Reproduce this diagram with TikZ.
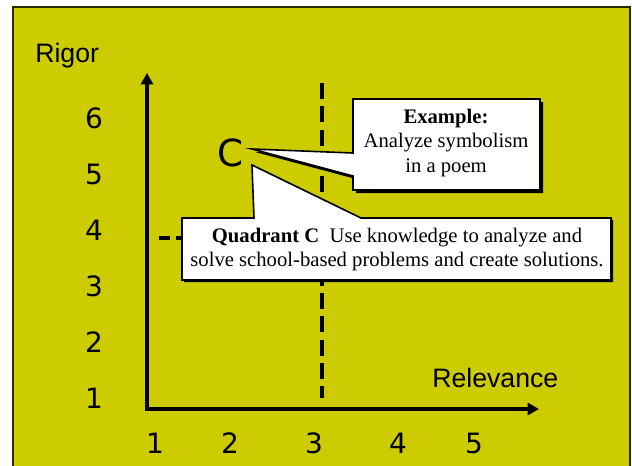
\documentclass[tikz,border=0pt]{standalone}
\usepackage{fontspec}
\setmainfont{Liberation Serif}
\newfontfamily\arialf{Liberation Sans}
\newfontfamily\tahf{DejaVu Sans}
\usetikzlibrary{arrows.meta}
\definecolor{bgyellow}{RGB}{204,204,0}
\begin{document}
\begin{tikzpicture}[x=0.75pt,y=-0.75pt,
  axisline/.style={line width=2.8pt, line join=miter,
     {Triangle[length=8.5pt,width=9pt]}-{Triangle[length=8.5pt,width=9pt]}},
  dashline/.style={line width=3pt, dash pattern=on 12pt off 5.5pt},
  hdashline/.style={line width=3pt, dash pattern=on 8pt off 5pt},
  callout/.style={fill=white, draw=black, line width=1.2pt, line join=miter},
  shadowfill/.style={fill=black},
  boxtext/.style={font=\fontsize{15.5}{18.5}\selectfont, align=center, inner sep=0pt},
  lbl/.style={font=\arialf\fontsize{20}{24}\selectfont, inner sep=0pt, anchor=base west},
  num/.style={font=\tahf\fontsize{21}{25}\selectfont, inner sep=0pt, anchor=base}]
\useasboundingbox (0,0) rectangle (632,465);
\fill[white] (0,0) rectangle (632,465);
\draw[fill=bgyellow, draw=black!80!bgyellow, line width=1.6pt] (13,7) rectangle (630,480);

% dashed guide lines
\coordinate (dtop) at (322,83);
\coordinate (dbot) at (322,398);
\draw[dashline] (dtop) -- (dbot);
\coordinate (hleft) at (159,238);
\coordinate (hright) at (185,238);
\draw[hdashline] (hleft) -- (hright);

% axes
\coordinate (ytop) at (147,73);
\coordinate (O) at (147,409);
\coordinate (xend) at (539,409);
\draw[axisline] (ytop) -- (O) -- (xend);

% example callout
\begin{scope}[shift={(3,3)}]
\fill[shadowfill] (353,99) -- (540,99) -- (540,190) -- (353,190) -- (353,176) -- (252,149) -- (353,153) -- cycle;
\end{scope}
\draw[callout] (353,99) -- (540,99) -- (540,190) -- (353,190) -- (353,176) -- (252,149) -- (353,153) -- cycle;

% quadrant callout
\begin{scope}[shift={(2,2)}]
\fill[shadowfill] (182,218) -- (254,218) -- (252,165) -- (361,218) -- (611,218) -- (611,280) -- (182,280) -- cycle;
\end{scope}
\draw[callout] (182,218) -- (254,218) -- (252,165) -- (361,218) -- (611,218) -- (611,280) -- (182,280) -- cycle;

\node[boxtext] (extext) at (446,143) {\textbf{Example:}\\Analyze symbolism\\in a poem};
\node[boxtext] (qtext) at (397,249.5) {\textbf{Quadrant C}\ \ Use knowledge to analyze and\\solve school-based problems and create solutions.};

% letter C
\node[font=\tahf\fontsize{28}{32}\selectfont, inner sep=0pt, anchor=base] (C) at (231,166.5) {C};

% labels
\node[lbl] (rigor) at (35,62) {Rigor};
\node[lbl] (relevance) at (432,387) {Relevance};

% y numbers
\node[num] (y6) at (94,128) {6};
\node[num] (y5) at (94,184) {5};
\node[num] (y4) at (94,240) {4};
\node[num] (y3) at (94,296) {3};
\node[num] (y2) at (94,352) {2};
\node[num] (y1) at (94,408) {1};

% x numbers
\node[num] (x1) at (155,453.5) {1};
\node[num] (x2) at (230,453.5) {2};
\node[num] (x3) at (314,453.5) {3};
\node[num] (x4) at (398,453.5) {4};
\node[num] (x5) at (474,453.5) {5};
\end{tikzpicture}
\end{document}
